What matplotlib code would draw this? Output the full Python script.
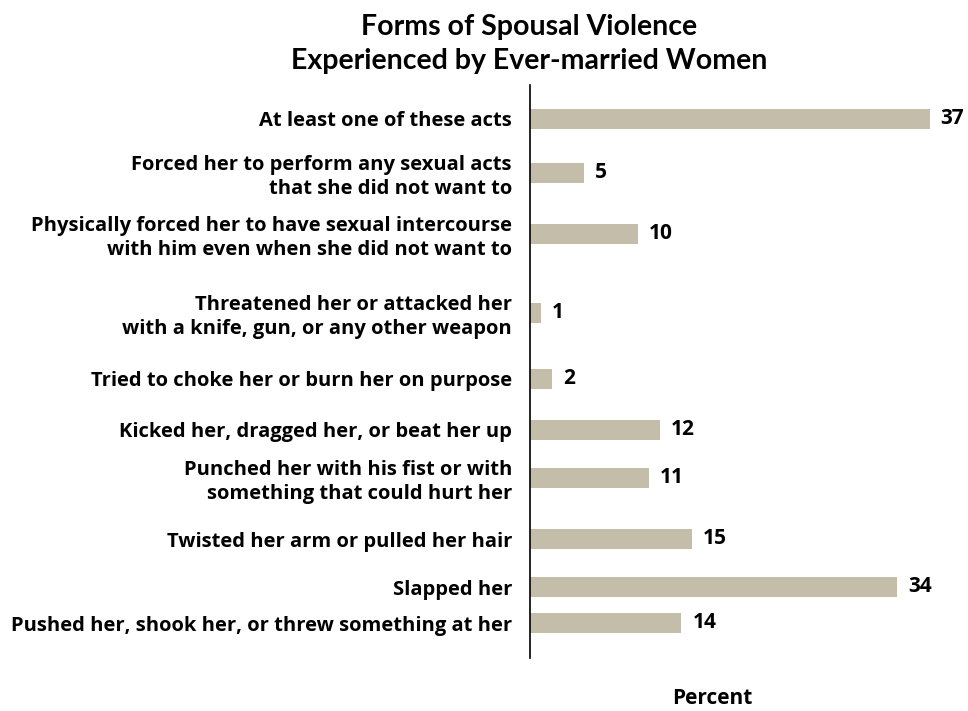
import matplotlib
matplotlib.use("Agg")
from matplotlib import pyplot as plt

categories = [
    "At least one of these acts",
    "Forced her to perform any sexual acts\nthat she did not want to",
    "Physically forced her to have sexual intercourse\nwith him even when she did not want to",
    "Threatened her or attacked her\nwith a knife, gun, or any other weapon",
    "Tried to choke her or burn her on purpose",
    "Kicked her, dragged her, or beat her up",
    "Punched her with his fist or with\nsomething that could hurt her",
    "Twisted her arm or pulled her hair",
    "Slapped her",
    "Pushed her, shook her, or threw something at her",
]
percent = [37, 5, 10, 1, 2, 12, 11, 15, 34, 14]

# row centres (layout only, uneven like the original)
row_pos = [0, 1.08, 2.3, 3.88, 5.2, 6.22, 7.18, 8.4, 9.36, 10.08]

plt.rcParams['font.family'] = ['Open Sans', 'DejaVu Sans']
plt.rcParams['font.weight'] = 'bold'

fig = plt.figure(figsize=(9.68, 7.11), dpi=100)
ax = fig.add_axes([530/968, 1 - 658/711, 432/968, (658 - 85)/711])

ax.barh(row_pos, percent, height=0.4, color='#c4bdaa')
for y, v in zip(row_pos, percent):
    ax.annotate(str(v), (v, y), xytext=(8, 0), textcoords='offset points',
                ha='left', va='center', fontsize=15, fontweight='bold')

ax.set_xlim(0, 40)
ax.set_ylim(10.78, -0.68)
ax.set_yticks(row_pos)
ax.set_yticklabels(categories, fontsize=14.5, fontweight='bold', ha='right',
                   multialignment='right', linespacing=1.25)
ax.tick_params(axis='y', length=0, pad=13)
ax.set_xticks([])
for s in ['top', 'right', 'bottom']:
    ax.spines[s].set_visible(False)
ax.spines['left'].set_linewidth(1.2)

fig.text(529/968, 1 - 44/711, "Forms of Spousal Violence\nExperienced by Ever-married Women",
         ha='center', va='center', fontsize=20.5, fontweight='bold', linespacing=1.4,
         family=['Lato', 'DejaVu Sans'])
fig.text(712/968, 1 - 709/711, "Percent", ha='center', va='bottom',
         fontsize=15, fontweight='bold')

fig.savefig("out.png", dpi=100)
